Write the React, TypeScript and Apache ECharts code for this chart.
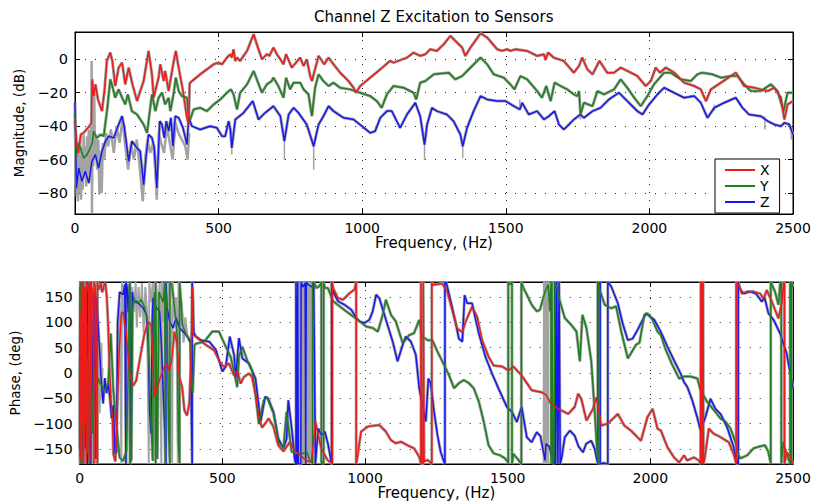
import React, { useEffect, useRef } from "react";
import * as echarts from "echarts";

const TITLE = "Channel Z Excitation to Sensors";
const X_NAME = "Frequency, (Hz)";
const MAG_NAME = "Magnitude, (dB)";
const PHASE_NAME = "Phase, (deg)";
const SERIES_NAMES = ["X", "Y", "Z"];
const COLORS = ["#ea1c1c", "#1e7f1e", "#1717f2"];
const GRAY = "#a3a3a3";
const FREQ_TICKS = [0, 500, 1000, 1500, 2000, 2500];

const magX: any[] = [[0,-37],[5,-50],[12,-56],[20,-45],[30,-44],[40,-42],[50,-40],[57,-38],[60,-12],[65,-22],[71,-15],[80,-24],[94,-31],[103,-18],[111,-1],[123,4],[130,-1],[140,-16],[152,-5],[164,-2],[175,-15],[187,-5],[200,-15],[216,-25],[239,-13],[256,5],[268,-9],[274,-23],[291,-11],[297,-3],[309,-13],[314,-7],[326,-19],[343,-2],[351,5],[361,-5],[376,-19],[390,-35],[396,-39],[399,-15],[401,-14],[436,-9],[483,-3],[500,-2],[512,-3],[529,1],[541,3],[546,1],[552,6],[558,-1],[564,1],[575,-1],[599,5],[622,15],[633,9],[651,0],[668,3],[677,2],[691,7],[703,3],[715,0],[726,-3],[735,3],[755,-5],[784,1],[796,-4],[807,0],[819,-10],[825,-13],[842,-2],[848,2],[860,-1],[868,-3],[883,1],[900,-3],[923,-8],[952,-13],[970,-17],[978,-20],[993,-16],[1028,-11],[1063,-6],[1097,-1],[1109,-2],[1133,-0.5],[1156,1],[1179,4],[1202,2],[1220,3],[1237,6],[1260,5],[1284,9],[1307,14],[1324,11],[1348,7],[1359,2],[1377,7],[1412,15.5],[1435,13],[1470,6],[1487,5],[1505,6],[1516,5],[1534,6],[1574,5],[1609,2],[1633,3],[1638,-0.5],[1647,4],[1667,1],[1702,-1],[1737,-8],[1755,-4],[1766,1],[1784,-6],[1802,-9],[1826,-1],[1853,-8],[1877,-8],[1900,-5],[1935,-8],[1958,-10],[1987,-16],[2005,-13],[2022,-5],[2037,-8],[2057,-5],[2086,-8],[2121,-14],[2156,-16],[2179,-18],[2197,-25],[2214,-18],[2249,-14],[2284,-10],[2301,-8],[2330,-16],[2365,-17],[2388,-18],[2412,-19],[2435,-17],[2458,-23],[2470,-36],[2481,-27],[2500,-25]];

const magY: any[] = [[0,-33],[5,-58],[12,-50],[19,-53],[30,-59],[42,-57],[53,-53],[60,-50],[65,-43],[75,-47],[90,-45],[100,-46],[112,-30],[123,-12],[130,-16],[140,-23],[152,-18],[164,-23],[175,-27],[184,-21],[198,-31],[216,-33],[239,-39],[251,-44],[259,-33],[268,-21],[280,-31],[291,-23],[303,-20],[314,-27],[326,-23],[332,-31],[343,-21],[351,-11],[361,-19],[372,-22],[390,-23],[396,-37],[401,-36],[413,-30],[436,-29],[459,-31],[483,-27],[506,-24],[529,-20],[543,-18],[552,-21],[564,-30],[575,-20],[599,-15],[622,-7],[633,-12],[651,-20],[668,-15],[685,-13],[691,-11],[708,-16],[726,-23],[735,-11],[749,-18],[761,-14],[784,-14],[796,-18],[813,-21],[825,-34],[836,-17],[848,-9],[865,-13],[883,-16],[900,-14],[923,-17],[958,-18],[993,-20],[1028,-22],[1051,-25],[1068,-29],[1086,-21],[1109,-16],[1144,-17],[1179,-20],[1188,-24],[1202,-14],[1220,-13],[1249,-9],[1301,-8],[1324,-12],[1348,-10],[1377,-5],[1412,1],[1435,-3],[1458,-9],[1493,-11],[1516,-15],[1530,-18],[1551,-10],[1574,-12],[1609,-19],[1626,-23],[1641,-16],[1656,-25],[1670,-14],[1691,-16],[1714,-18],[1737,-21],[1749,-22],[1755,-19],[1760,-33],[1772,-26],[1802,-28],[1819,-19],[1842,-21],[1877,-18],[1900,-12],[1923,-17],[1947,-23],[1970,-28],[1993,-22],[2016,-15],[2051,-8],[2074,-8],[2109,-12],[2144,-13],[2167,-9],[2184,-8],[2219,-9],[2249,-11],[2284,-10],[2307,-10],[2330,-15],[2353,-19],[2388,-19],[2423,-15],[2446,-19],[2467,-31],[2481,-20],[2500,-20]];

const magZ: any[] = [[0,-26],[5,-77],[13,-65],[24,-73],[36,-67],[48,-74],[59,-61],[71,-57],[82,-65],[94,-55],[106,-49],[117,-46],[135,-47],[152,-39],[164,-34],[172,-41],[187,-61],[198,-49],[216,-53],[227,-55],[239,-75],[247,-59],[256,-45],[268,-47],[276,-53],[285,-77],[295,-37],[303,-39],[311,-47],[318,-37],[326,-43],[334,-35],[341,-52],[349,-34],[361,-35],[376,-41],[390,-51],[396,-35],[407,-40],[436,-42],[471,-40],[494,-41],[512,-46],[523,-46],[535,-37],[541,-42],[546,-53],[558,-36],[587,-32],[619,-25],[639,-36],[662,-32],[691,-28],[715,-34],[729,-49],[744,-33],[761,-29],[778,-32],[807,-39],[831,-52],[848,-39],[865,-34],[883,-28],[900,-31],[935,-35],[970,-36],[999,-40],[1028,-44],[1045,-43],[1063,-35],[1086,-31],[1103,-31],[1132,-41],[1156,-33],[1185,-26],[1202,-34],[1217,-51],[1226,-39],[1243,-29],[1260,-31],[1295,-33],[1318,-37],[1342,-45],[1350,-52],[1365,-41],[1388,-31],[1412,-22],[1435,-24],[1470,-25],[1499,-25],[1528,-28],[1549,-30],[1557,-26],[1580,-33],[1609,-31],[1633,-36],[1650,-34],[1670,-31],[1685,-39],[1702,-42],[1714,-40],[1737,-36],[1760,-33],[1772,-35],[1802,-31],[1830,-29],[1859,-24],[1894,-20],[1923,-25],[1958,-31],[1976,-33],[1999,-27],[2028,-21],[2051,-17],[2086,-20],[2121,-23],[2156,-22],[2179,-26],[2202,-35],[2226,-29],[2260,-26],[2301,-23],[2324,-29],[2347,-33],[2388,-34],[2412,-37],[2435,-39],[2458,-40],[2470,-38],[2487,-39],[2500,-45]];

const magNoise: any[] = [[0,-40],[2,-75],[4,-55],[6,-82],[8,-50],[10,-85],[13,-60],[16,-80],[18,-48],[21,-84],[24,-58],[27,-78],[30,-45],[33,-70],[36,-52],[39,-76],[42,-46],[45,-68],[48,-42],[51,-72],[54,-50],[56,-66],[58,-1],[59,-92],[61,-48],[64,-64],[67,-18],[69,-60],[73,-45],[77,-66],[81,-48],[85,-81],[89,-55],[93,-80],[97,-50],[102,-60],[108,-44],[115,-52],[125,-42],[135,-56],[145,-40],[155,-50],[165,-36],[175,-52],[185,-66],[195,-50],[205,-60],[215,-48],[225,-64],[236,-85],[244,-60],[252,-48],[262,-56],[272,-50],[278,-62],[285,-84],[292,-44],[300,-50],[310,-56],[320,-40],[330,-50],[340,-60],[350,-38],[360,-44],[372,-48],[384,-52],[392,-60],[398,-44]];

const magSpikes: any[] = [[546,-50],[546,-57],[546,"-"],[729,-45],[729,-60],[729,"-"],[831,-48],[831,-66],[831,"-"],[1217,-47],[1217,-60],[1217,"-"],[1350,-48],[1350,-59],[1350,"-"],[1549,-24],[1549,-30],[1549,"-"],[1760,-30],[1760,-36],[1760,"-"],[2226,-27],[2226,-31],[2226,"-"],[2402,-34],[2402,-42],[2402,"-"],[2494,-40],[2494,-48]];

const phaseX: any[] = [[0,30],[2,-170],[4,120],[6,-180],[6,180],[9,150],[11,-100],[13,180],[13,-180],[16,-120],[18,170],[21,140],[23,-180],[23,180],[26,165],[29,178],[31,150],[33,-170],[35,180],[38,175],[40,-175],[42,170],[45,160],[48,120],[50,-180],[50,180],[53,175],[56,150],[58,-170],[60,-50],[62,-180],[62,180],[66,165],[70,170],[74,178],[78,160],[82,165],[86,176],[90,178],[95,150],[100,90],[105,0],[110,-60],[115,-90],[118,-160],[125,-175],[132,-60],[138,40],[146,118],[152,121],[164,72],[175,-1],[187,-25],[198,-15],[210,25],[227,78],[241,101],[251,92],[256,25],[262,-48],[274,-25],[285,-5],[297,12],[306,19],[314,5],[322,25],[332,82],[341,58],[349,-8],[359,-28],[367,-74],[376,-84],[384,-61],[390,25],[396,171],[398,75],[401,75],[436,58],[471,45],[494,19],[506,12],[523,19],[541,-5],[552,5],[564,-21],[575,-8],[593,-1],[604,-8],[616,-41],[628,-88],[639,-108],[650,-100],[662,-90],[679,-106],[696,-143],[714,-155],[737,-136],[754,-155],[772,-163],[795,-173],[812,-176],[818,-143],[826,-96],[836,-123],[847,-149],[859,-163],[870,-173],[880,-177],[885,-180],[885,180],[888,168],[905,148],[923,145],[946,158],[963,165],[969,180],[969,-180],[975,-160],[986,-116],[1010,-106],[1050,-103],[1073,-116],[1091,-133],[1108,-139],[1126,-136],[1149,-143],[1172,-149],[1190,-166],[1196,-180],[1196,180],[1199,-180],[1204,-180],[1204,180],[1207,-175],[1220,-172],[1234,-180],[1234,180],[1236,174],[1271,177],[1288,161],[1306,124],[1323,88],[1341,81],[1352,101],[1375,131],[1393,111],[1410,65],[1433,32],[1451,15],[1480,13],[1503,5],[1520,13],[1549,-5],[1584,-34],[1619,-38],[1636,-44],[1648,-58],[1677,-71],[1712,-81],[1735,-67],[1747,-41],[1758,-51],[1776,-94],[1799,-71],[1811,-48],[1828,-104],[1851,-100],[1886,-81],[1909,-104],[1932,-114],[1967,-134],[1990,-87],[2008,-71],[2025,-110],[2037,-114],[2060,-147],[2083,-167],[2101,-177],[2118,-163],[2129,-173],[2153,-167],[2170,-173],[2176,-180],[2177,180],[2179,-180],[2181,180],[2183,-180],[2185,180],[2186,-180],[2190,-170],[2205,-110],[2222,-120],[2246,-127],[2275,-137],[2292,-160],[2301,-180],[2301,180],[2310,174],[2321,157],[2339,161],[2362,161],[2385,157],[2397,147],[2408,164],[2426,141],[2449,108],[2461,139],[2467,178],[2470,180],[2470,-180],[2478,-157],[2490,-165],[2500,-180]];

const phaseY: any[] = [[0,-10],[2,-180],[2,180],[5,60],[8,-120],[10,160],[12,-180],[12,180],[15,-20],[20,-100],[24,30],[27,-160],[30,100],[33,-180],[33,180],[38,150],[42,-30],[46,-120],[50,10],[55,-20],[60,-30],[65,-10],[70,-20],[78,-25],[85,-35],[94,-28],[100,-20],[109,78],[117,-28],[129,-107],[140,-167],[152,-174],[164,-154],[170,5],[174,171],[176,180],[176,-180],[181,-170],[185,120],[190,150],[195,140],[204,138],[215,145],[227,131],[235,110],[239,92],[245,-20],[251,-107],[256,-174],[258,100],[262,160],[266,-180],[266,180],[272,-170],[278,160],[285,150],[292,140],[298,178],[300,-180],[300,180],[306,120],[312,-120],[316,-180],[316,180],[322,175],[326,160],[332,130],[338,100],[342,70],[346,-140],[350,-180],[350,180],[355,140],[360,95],[370,80],[380,70],[388,65],[392,-30],[396,-40],[402,55],[407,58],[436,62],[465,82],[488,82],[512,52],[529,32],[541,2],[552,-28],[558,32],[570,52],[587,25],[604,5],[616,-41],[628,-101],[645,-54],[657,-48],[668,-64],[680,-81],[697,-137],[714,-149],[725,-77],[732,-110],[743,-156],[760,-158],[783,-159],[795,-156],[807,-173],[815,-178],[816,-180],[816,180],[822,178],[830,168],[840,172],[847,180],[847,-180],[850,-175],[855,-180],[855,180],[859,168],[870,168],[888,142],[911,132],[934,122],[958,112],[981,102],[1004,92],[1027,89],[1045,82],[1062,115],[1073,145],[1091,115],[1108,102],[1132,59],[1155,75],[1172,79],[1190,105],[1201,72],[1219,65],[1236,65],[1254,42],[1271,23],[1294,-4],[1312,-30],[1329,-20],[1346,-14],[1364,-20],[1381,-30],[1399,-57],[1416,-96],[1433,-143],[1451,-159],[1474,-163],[1491,-169],[1501,-176],[1502,-180],[1502,180],[1509,175],[1515,180],[1515,-180],[1520,-160],[1535,-170],[1548,-180],[1548,180],[1555,168],[1567,155],[1584,135],[1602,122],[1613,125],[1631,161],[1642,175],[1648,122],[1652,180],[1652,-180],[1655,180],[1658,-180],[1662,-175],[1666,180],[1672,170],[1683,142],[1700,109],[1723,95],[1741,82],[1753,23],[1762,115],[1776,89],[1793,23],[1805,-77],[1816,-176],[1817,-180],[1817,180],[1822,165],[1840,135],[1863,128],[1880,132],[1898,82],[1921,29],[1932,39],[1950,56],[1962,60],[1979,115],[1990,118],[2008,105],[2025,82],[2037,75],[2054,46],[2077,16],[2101,-11],[2118,-7],[2141,-7],[2165,-11],[2176,-34],[2199,-57],[2222,-73],[2246,-90],[2263,-96],[2281,-110],[2298,-136],[2310,-163],[2315,-169],[2339,-163],[2362,-149],[2379,-146],[2402,-143],[2413,-155],[2421,-176],[2422,-180],[2422,180],[2437,161],[2449,135],[2455,178],[2459,180],[2459,-180],[2466,-136],[2472,-150],[2490,-180],[2490,180],[2495,-180],[2495,180],[2500,170]];

const phaseZ: any[] = [[0,-150],[2,170],[4,-180],[4,180],[7,-140],[10,150],[13,-180],[13,180],[17,50],[20,-150],[24,170],[27,-180],[27,180],[31,-60],[35,120],[39,-180],[39,180],[43,90],[47,-120],[52,160],[56,-170],[60,150],[64,100],[70,40],[76,-20],[82,-60],[88,-10],[94,-40],[100,-20],[106,-50],[112,-90],[118,-64],[124,-160],[129,-156],[133,100],[140,160],[152,155],[158,175],[162,-180],[162,180],[166,170],[170,120],[175,175],[180,-170],[184,160],[190,140],[199,142],[211,135],[222,129],[234,115],[240,60],[245,-77],[250,-120],[254,100],[257,149],[268,129],[280,122],[286,60],[292,-30],[298,-110],[302,-180],[302,180],[306,130],[315,102],[327,89],[338,109],[350,89],[362,82],[373,75],[380,70],[388,60],[394,-180],[394,180],[400,80],[407,72],[425,65],[454,62],[477,46],[500,3],[512,13],[526,72],[541,36],[547,-11],[558,69],[570,29],[593,19],[616,-11],[634,-96],[650,-47],[660,-50],[679,-77],[696,-130],[714,-149],[725,-130],[731,-54],[743,-110],[754,-173],[758,-180],[758,180],[762,-180],[764,180],[766,-180],[775,-180],[776,180],[782,170],[790,178],[792,-180],[794,180],[800,175],[815,170],[820,178],[826,-180],[830,-150],[836,-110],[847,-123],[859,-116],[870,-140],[882,-176],[883,-180],[883,180],[888,161],[905,142],[928,135],[952,125],[969,109],[981,102],[998,99],[1015,105],[1027,122],[1039,155],[1050,148],[1068,115],[1097,62],[1114,23],[1132,56],[1143,72],[1161,62],[1178,36],[1190,-30],[1201,-63],[1213,-96],[1222,-11],[1230,-20],[1242,-77],[1254,-123],[1265,-156],[1277,-176],[1280,-180],[1280,180],[1285,178],[1294,157],[1306,128],[1318,98],[1329,68],[1341,62],[1349,154],[1358,138],[1375,138],[1399,78],[1422,32],[1445,-1],[1468,-31],[1497,-67],[1515,-77],[1532,-97],[1549,-67],[1567,-127],[1584,-137],[1602,-117],[1615,-125],[1631,-173],[1634,-140],[1645,-145],[1660,-173],[1665,-180],[1665,180],[1668,-180],[1672,180],[1676,-180],[1680,180],[1684,-180],[1690,-165],[1700,-127],[1718,-114],[1735,-124],[1748,-145],[1764,-157],[1775,-140],[1793,-134],[1805,-150],[1816,-180],[1816,180],[1820,175],[1824,180],[1824,-180],[1835,-178],[1851,-180],[1851,180],[1863,171],[1886,138],[1903,98],[1921,65],[1938,68],[1955,85],[1985,118],[2014,105],[2037,81],[2060,52],[2083,25],[2106,-1],[2118,-18],[2130,-28],[2147,-54],[2164,-87],[2176,-114],[2193,-87],[2211,-51],[2228,-71],[2246,-81],[2269,-107],[2292,-147],[2304,-180],[2308,-180],[2308,180],[2315,165],[2327,157],[2350,161],[2370,157],[2391,141],[2400,150],[2414,118],[2432,105],[2455,78],[2478,38],[2492,-5],[2500,-30]];

const phaseNoise: any[] = [[0,-180],[1,170],[2,-120],[3,180],[4,-180],[5,90],[6,180],[7,-180],[8,150],[9,-170],[10,180],[11,-60],[12,180],[13,-180],[14,120],[15,-180],[16,180],[17,-100],[18,170],[19,-180],[20,180],[21,-150],[22,60],[23,-180],[24,180],[25,-90],[26,180],[27,-180],[28,140],[29,-180],[30,180],[31,-120],[32,160],[33,-180],[34,180],[35,-60],[36,180],[37,-180],[38,100],[39,-180],[40,180],[41,-140],[42,170],[43,-180],[44,180],[45,-30],[46,150],[47,-180],[48,180],[49,-100],[50,120],[51,-180],[52,180],[53,-60],[54,90],[55,-180],[56,180],[57,-40],[58,60],[59,-180],[60,150],[62,-20],[64,100],[66,-60],[68,40],[70,-80],[72,20],[74,-50],[76,60],[78,-30],[80,10],[80,"-"],
[140,140],[146,-180],[148,180],[152,120],[158,175],[163,-180],[165,180],[170,100],[176,178],[180,60],[184,170],[190,120],[196,180],[200,90],[206,170],[212,110],[218,178],[224,80],[230,170],[236,120],[242,-180],[244,180],[250,140],[256,178],[262,90],[268,175],[274,110],[280,178],[286,-180],[288,180],[294,100],[300,170],[306,80],[312,178],[318,120],[324,-180],[326,180],[332,110],[338,150],[344,-180],[346,180],[352,90],[358,140],[364,60],[370,110],[378,70],[378,"-"],
[764,-180],[765,180],[767,-180],[768,180],[770,-180],[771,180],[773,-180],[774,180],[776,-180],[777,180],[779,-180],[780,180],[782,-180],[783,180],[785,-180],[786,180],[788,-180],[789,180],[791,-180],[792,180],[794,-180],[795,180],[797,-180],[798,180],[800,-180],[801,180],[803,-180],[804,180],[806,-180],[807,180],[809,-180],[810,180],[812,-180],[813,180],[813,"-"],
[1626,-180],[1627,180],[1629,-180],[1630,180],[1632,-180],[1633,180],[1635,-180],[1636,180],[1638,-180],[1639,180],[1641,-180],[1642,180]];

const FONT = "DejaVu Sans";

function fmtTick(step: number) {
  return (v: number) => {
    const r = v / step;
    if (Math.abs(r - Math.round(r)) > 1e-6) return "";
    return v < 0 ? "\u2212" + Math.abs(v) : String(v);
  };
}

function xAxes(gridIndex: number, nameGap: number) {
  return [
    {
      type: "value", gridIndex, min: FREQ_TICKS[0], max: FREQ_TICKS[FREQ_TICKS.length - 1], interval: FREQ_TICKS[1] - FREQ_TICKS[0], position: "bottom",
      name: X_NAME, nameLocation: "middle", nameGap,
      nameTextStyle: { fontSize: 15, color: "#000", fontFamily: FONT },
      axisLine: { show: true, onZero: false, lineStyle: { color: "#000", width: 1 } },
      axisTick: { show: true, inside: true, length: 5, lineStyle: { color: "#000" } },
      axisLabel: { color: "#000", fontSize: 14, fontFamily: FONT, margin: 7, formatter: (v: number) => String(v) },
      splitLine: { show: true, lineStyle: { color: "#222", width: 1, type: [1, 7] } },
    },
    {
      type: "value", gridIndex, min: FREQ_TICKS[0], max: FREQ_TICKS[FREQ_TICKS.length - 1], interval: FREQ_TICKS[1] - FREQ_TICKS[0], position: "top",
      axisLine: { show: true, onZero: false, lineStyle: { color: "#000", width: 1 } },
      axisTick: { show: true, inside: true, length: 5, lineStyle: { color: "#000" } },
      axisLabel: { show: false },
      splitLine: { show: false },
    },
  ];
}

function yAxes(gridIndex: number, min: number, max: number, splitNumber: number, step: number, name: string, nameGap: number) {
  return [
    {
      type: "value", gridIndex, min, max, splitNumber, position: "left",
      name, nameLocation: "middle", nameGap,
      nameTextStyle: { fontSize: 13.5, color: "#000", fontFamily: FONT },
      axisLine: { show: true, onZero: false, lineStyle: { color: "#000", width: 1 } },
      axisTick: { show: true, inside: true, length: 5, lineStyle: { color: "#000" } },
      axisLabel: { color: "#000", fontSize: 14.5, fontFamily: FONT, margin: 7, showMinLabel: false, showMaxLabel: false, formatter: fmtTick(step) },
      splitLine: { show: true, lineStyle: { color: "#222", width: 1, type: [1, 9] } },
    },
    {
      type: "value", gridIndex, min, max, splitNumber, position: "right",
      axisLine: { show: true, onZero: false, lineStyle: { color: "#000", width: 1 } },
      axisTick: { show: true, inside: true, length: 5, lineStyle: { color: "#000" } },
      axisLabel: { show: false },
      splitLine: { show: false },
    },
  ];
}

function line(name: string, data: any[], axis: number, color: string, width: number) {
  return {
    type: "line", name, data, xAxisIndex: axis, yAxisIndex: axis,
    symbol: "none", showSymbol: false, silent: true, clip: true,
    lineStyle: { color, width }, itemStyle: { color },
    emphasis: { disabled: true },
  };
}

export default function App() {
  const ref = useRef<HTMLDivElement>(null);
  useEffect(() => {
    document.body.style.margin = "0";
    const chart = echarts.init(ref.current!, null, { renderer: "svg" });
    const mags = [magX, magY, magZ];
    const phases = [phaseX, phaseY, phaseZ];
    const order = [2, 1, 0];
    const series: any[] = [];
    series.push(line("gm", magNoise, 0, GRAY, 2.5));
    series.push(line("gs", magSpikes, 0, GRAY, 1.5));
    order.forEach((i) => series.push(line("g" + i, mags[i], 0, GRAY, 3)));
    order.forEach((i) => series.push(line(SERIES_NAMES[i], mags[i], 0, COLORS[i], 1.5)));
    series.push(line("gp", phaseNoise, 2, GRAY, 2));
    order.forEach((i) => series.push(line("gp" + i, phases[i], 2, GRAY, 3)));
    order.forEach((i) => series.push(line(SERIES_NAMES[i], phases[i], 2, COLORS[i], 1.5)));

    chart.setOption({
      animation: false,
      backgroundColor: "#fff",
      title: {
        text: TITLE, left: 314, top: 9, padding: 0,
        textStyle: { fontSize: 15, fontWeight: "normal", color: "#000", fontFamily: FONT },
      },
      legend: {
        data: SERIES_NAMES, orient: "vertical", left: 715, top: 159,
        padding: [4, 10, 4, 10], itemWidth: 30, itemHeight: 2, itemGap: 2,
        icon: "rect",
        borderColor: "#000", borderWidth: 1, backgroundColor: "#fff",
        selectedMode: false,
        textStyle: { fontSize: 14, color: "#000", fontFamily: FONT, lineHeight: 13 },
      },
      grid: [
        { left: 75, right: 21, top: 32, height: 182, show: true, borderColor: "#000", borderWidth: 1, backgroundColor: "transparent" },
        { left: 75, right: 21, top: 282, height: 182, show: true, borderColor: "#000", borderWidth: 1, backgroundColor: "transparent" },
      ],
      xAxis: [...xAxes(0, 18), ...xAxes(1, 20)],
      yAxis: [
        ...yAxes(0, -92.5, 16.3, 5, 20, MAG_NAME, 42),
        ...yAxes(1, -180, 180, 7, 50, PHASE_NAME, 52),
      ],
      series,
    });
    return () => chart.dispose();
  }, []);
  return <div ref={ref} style={{ width: 814, height: 503 }} />;
}
